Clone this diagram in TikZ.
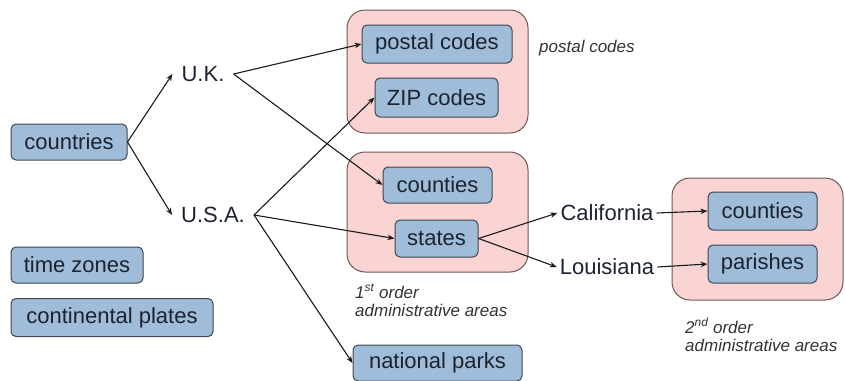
\documentclass[tikz,border=0pt]{standalone}
\usepackage{fontspec}
\setmainfont{Liberation Sans}
\usetikzlibrary{arrows.meta}
\definecolor{boxfill}{HTML}{9FBDD8}
\definecolor{boxborder}{HTML}{3E4652}
\definecolor{boxtext}{HTML}{1C2330}
\definecolor{grpfill}{HTML}{FAD3D3}
\definecolor{grpborder}{HTML}{6E5656}
\definecolor{notetext}{HTML}{333333}
\definecolor{arrowc}{HTML}{1A1A1A}
\tikzset{
  bluebox/.style={draw=boxborder, fill=boxfill, rounded corners=5pt, line width=1pt, inner sep=0pt,
    font=\fontsize{22}{24}\selectfont, text=boxtext},
  grpbox/.style={draw=grpborder, fill=grpfill, rounded corners=18pt, line width=1pt, inner sep=0pt},
  lbl/.style={font=\fontsize{22}{24}\selectfont, text=boxtext, inner sep=9pt},
  note/.style={font=\itshape\fontsize{17}{18.5}\selectfont, text=notetext, align=left, inner sep=0pt},
  arr/.style={-{Stealth[length=7pt,width=5.5pt]}, line width=1.1pt, draw=arrowc}
}
\begin{document}
\begin{tikzpicture}[x=1pt,y=-1pt]
\useasboundingbox (0,0) rectangle (845,380);
% groups
\node[grpbox, minimum width=181pt, minimum height=123pt] (g1) at (437.5,71.5) {};
\node[grpbox, minimum width=181pt, minimum height=120pt] (g2) at (437.5,212) {};
\node[grpbox, minimum width=171pt, minimum height=122pt] (g3) at (757.5,239) {};
% blue boxes
\node[bluebox, minimum width=116pt, minimum height=36pt] (countries) at (69,142) {countries};
\node[bluebox, minimum width=132pt, minimum height=36pt] (timezones) at (77,265) {time zones};
\node[bluebox, minimum width=202pt, minimum height=38pt] (plates) at (112,317.5) {continental plates};
\node[bluebox, minimum width=150pt, minimum height=38pt] (postal) at (437,44) {postal codes};
\node[bluebox, minimum width=123pt, minimum height=39pt] (zip) at (436.5,97.5) {ZIP codes};
\node[bluebox, minimum width=109pt, minimum height=36pt] (counties1) at (437.5,185) {counties};
\node[bluebox, minimum width=83pt, minimum height=37pt] (states) at (436.5,238.5) {states};
\node[bluebox, minimum width=169pt, minimum height=36pt] (parks) at (437.5,363) {national parks};
\node[bluebox, minimum width=109pt, minimum height=38pt] (counties2) at (762.5,211) {counties};
\node[bluebox, minimum width=109pt, minimum height=38pt] (parishes) at (762.5,264) {parishes};
% plain labels
\node[lbl] (uk) at (203,74) {U.K.};
\node[lbl] (usa) at (213,215) {U.S.A.};
\node[lbl, inner sep=3pt] (cal) at (607,213) {California};
\node[lbl, inner sep=3pt] (lou) at (607,267) {Louisiana};
% notes
\node[note, anchor=base west] (n1) at (539,52) {postal codes};
\node[note, anchor=north west] (n2) at (355,284) {1\textsuperscript{st} order\\administrative areas};
\node[note, anchor=north west] (n3) at (685,318) {2\textsuperscript{nd} order\\administrative areas};
% connectors
\draw[arr] (countries.east) -- (uk.west);
\draw[arr] (countries.east) -- (usa.west);
\draw[arr] (uk.east) -- (postal.west);
\draw[arr] (uk.east) -- (counties1.west);
\draw[arr] (usa.east) -- (zip.west);
\draw[arr] (usa.east) -- (states.west);
\draw[arr] (usa.east) -- (parks.west);
\draw[arr] (states.east) -- (cal.west);
\draw[arr] (states.east) -- (lou.west);
\draw[arr] (cal.east) -- (counties2.west);
\draw[arr] (lou.east) -- (parishes.west);
\end{tikzpicture}
\end{document}
